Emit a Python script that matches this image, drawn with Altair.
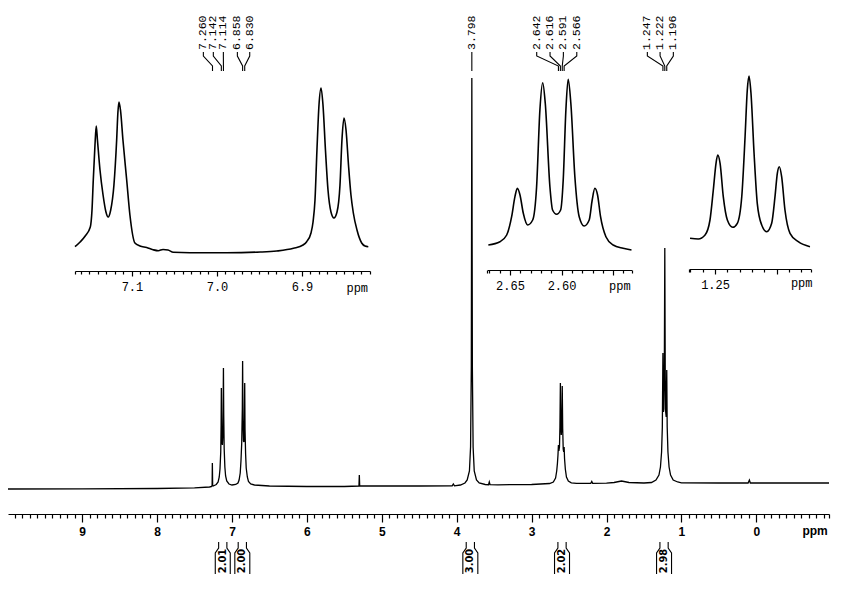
import altair as alt
import pandas as pd

# ---------------- data ----------------
# main spectrum (ppm, relative intensity)
main_ppm = [9.99, 9.0, 8.0, 7.5, 7.30, 7.27, 7.265, 7.262, 7.258, 7.25, 7.21, 7.185, 7.17, 7.16, 7.15,
            7.145, 7.142, 7.138, 7.132, 7.128, 7.122, 7.118, 7.114, 7.110, 7.104, 7.095, 7.085, 7.07,
            7.04, 7.0, 6.95, 6.92, 6.905, 6.89, 6.88, 6.87, 6.862, 6.858, 6.853, 6.846, 6.84, 6.835,
            6.830, 6.826, 6.818, 6.81, 6.795, 6.78, 6.75, 6.7, 6.5, 6.0, 5.5, 5.305, 5.300, 5.295, 4.5,
            4.06, 4.045, 4.03, 3.95, 3.89, 3.86, 3.83, 3.815, 3.805, 3.798, 3.791, 3.781, 3.766, 3.736,
            3.70, 3.62, 3.575, 3.565, 3.555, 3.45, 3.0, 2.76, 2.71, 2.68, 2.665, 2.655, 2.648, 2.642,
            2.636, 2.628, 2.622, 2.616, 2.61, 2.604, 2.597, 2.591, 2.585, 2.578, 2.572, 2.566, 2.56,
            2.55, 2.535, 2.51, 2.47, 2.40, 2.21, 2.197, 2.185, 2.0, 1.9, 1.8, 1.7, 1.5, 1.40, 1.34,
            1.30, 1.28, 1.265, 1.255, 1.247, 1.24, 1.234, 1.228, 1.222, 1.216, 1.21, 1.203, 1.196,
            1.19, 1.18, 1.165, 1.145, 1.11, 1.05, 1.0, 0.5, 0.11, 0.093, 0.08, -0.5, -0.97]
main_int = [-2, -1.8, -1.5, -0.8, 0, 0.5, 2, 24, 2, 1, 2.5, 5, 10, 18, 35,
            62, 99, 60, 44, 42, 52, 78, 119, 72, 38, 20, 11, 6,
            3, 2, 2.5, 4, 7, 14, 26, 44, 78, 126, 68, 46, 45, 62,
            104, 58, 33, 19, 10, 5.5, 3, 2, 1, 0.5, 0.5, 1, 12, 1, 1,
            1.2, 3, 1.2, 2, 4, 7, 16, 40, 120, 409, 120, 40, 16, 7,
            4, 2.5, 2.3, 5, 2.3, 2.2, 2.5, 3.5, 5, 9, 16, 24, 32, 42,
            36, 40, 60, 104, 62, 52, 60, 101, 58, 38, 35, 40, 28,
            18, 10, 6, 4.2, 3.7, 3.7, 5.5, 3.7, 3.8, 4.5, 6, 4.5, 4, 4.5, 7,
            12, 20, 35, 60, 134, 75, 78, 120, 239, 110, 75, 70, 117,
            60, 35, 20, 12, 7, 5, 4.2, 4, 4, 7, 4, 4, 4]

# inset 1 : aromatic region
ins1_ppm = [7.167, 7.161, 7.155, 7.149, 7.147, 7.1455, 7.1435, 7.142, 7.1406, 7.1376, 7.134, 7.1306,
            7.128, 7.125, 7.1212, 7.118, 7.1165, 7.1153, 7.1135, 7.1106, 7.1062, 7.1024, 7.0965,
            7.0906, 7.0827, 7.0753, 7.069, 7.0635, 7.0576, 7.0514, 7.0318, 6.9886, 6.949, 6.9298,
            6.910, 6.8988, 6.8945, 6.8894, 6.887, 6.8847, 6.8824, 6.88, 6.8776, 6.8753, 6.8724,
            6.8694, 6.8659, 6.8624, 6.8588, 6.8553, 6.853, 6.8506, 6.8482, 6.8453, 6.8424, 6.8396,
            6.8353, 6.8298, 6.8259, 6.822]
ins1_int = [6.3, 11, 17, 26, 43, 73, 108, 127, 113, 83, 58, 41,
            36, 43, 68, 113, 141, 151, 143, 113, 73, 38, 10,
            7, 5.5, 3.3, 2.3, 3.5, 3, 0.7, 0.3, 0.3, 1, 2,
            4.7, 8, 11.3, 20, 31, 53, 103, 148, 165, 148, 103,
            63, 41, 35, 41, 68, 113, 135, 123, 88, 58, 40,
            23, 10, 7, 6.3]

# inset 2 : quartet
ins2_ppm = [2.671, 2.6597, 2.6532, 2.6484, 2.6452, 2.6429, 2.6403, 2.6371, 2.6329, 2.628, 2.6242,
            2.621, 2.6183, 2.6158, 2.6113, 2.6087, 2.6048, 2.6009, 2.5984, 2.5958, 2.5936, 2.591,
            2.5871, 2.5829, 2.5781, 2.5732, 2.5703, 2.5677, 2.5651, 2.5622, 2.557, 2.55, 2.5403,
            2.5322]
ins2_int = [6, 9.3, 16, 34.3, 54.3, 62.7, 56, 37.7, 26, 31, 64.3,
            141, 168.3, 147.7, 64.3, 41, 36.7, 41, 71, 141, 171.7, 147.7,
            74.3, 34.3, 25, 31, 51, 62.7, 56, 34.3, 14.3, 6, 2.7,
            1]

# inset 3 : triplet
ins3_ppm = [1.2703, 1.2636, 1.2581, 1.2541, 1.2514, 1.2492, 1.2478, 1.2459, 1.2433, 1.24, 1.2356,
            1.2319, 1.2283, 1.2256, 1.2238, 1.2224, 1.2208, 1.2183, 1.2157, 1.2121, 1.208, 1.204,
            1.2013, 1.1994, 1.1978, 1.1959, 1.1932, 1.1891, 1.1824, 1.1729]
ins3_int = [9.7, 9, 13, 28, 58, 84.7, 93, 84.7, 51.3, 28, 20.7,
            24.7, 51.3, 111.3, 158, 172, 154.7, 94.7, 44.7, 23, 16.3, 24.7,
            51.3, 74.7, 81.3, 71.3, 38, 14.7, 6.3, 1.3]

# peak picking labels
peak_text = ["7.260", "7.142", "7.114", "6.858", "6.830", "3.798",
             "2.642", "2.616", "2.591", "2.566", "1.247", "1.222", "1.196"]
peak_ppm = [7.260, 7.142, 7.114, 6.858, 6.830, 3.798,
            2.642, 2.616, 2.591, 2.566, 1.247, 1.222, 1.196]

# integrals
integral_text = ["2.01", "2.00", "3.00", "2.02", "2.98"]
integral_ppm = [7.123, 6.862, 3.818, 2.594, 1.232]

# ---------------- layout ----------------
W, H = 831, 506
label_anchor = [7.382, 7.249, 7.115, 6.928, 6.763, 3.798,
                2.932, 2.754, 2.576, 2.397, 1.455, 1.285, 1.108]


def sc(domain, rng):
    return alt.Scale(domain=domain, range=rng, nice=False, zero=False)


def MX():
    return sc([9.99, -0.97], [0, 821])


def MY():
    return sc([0, 400], [479, 79])


def make_axis(values, major_test, label_test, fmt, offset, font, weight, size,
              major_len, minor_len, pad):
    return alt.Axis(
        orient="bottom", offset=offset, values=values, title=None, grid=False,
        labelExpr=f"({label_test}) ? format(datum.value, '{fmt}') : ''",
        tickSize={"condition": {"test": major_test, "value": major_len}, "value": minor_len},
        labelFont=font, labelFontWeight=weight, labelFontSize=size, labelColor="black",
        labelPadding=pad, labelOverlap=False, labelFlush=False, labelBound=False,
        domainColor="black", domainWidth=1.2, tickColor="black", tickWidth=1.2,
    )


main_vals = [round(10 - 0.1 * i, 1) + 0.0 for i in range(110)] + [-0.97]
m_major = "abs(datum.value - round(datum.value)) < 0.001"
main_axis = make_axis(main_vals, m_major, m_major + " && datum.value < 9.5", "d", 0,
                      "Liberation Sans", "bold", 12, 8, 4, 4)

i1_vals = [7.167] + [round(7.16 - 0.01 * i, 2) + 0.0 for i in range(34)] + [6.82]
i1_major = "abs(datum.value*10 - round(datum.value*10)) < 0.001"
i1_axis = make_axis(i1_vals, i1_major, i1_major, ".1f", 263 - H,
                    "Liberation Mono", "normal", 12, 5, 3, 5)

i2_vals = [2.672] + [round(2.67 - 0.01 * i, 2) + 0.0 for i in range(14)] + [2.532]
i2_major = "abs(datum.value*20 - round(datum.value*20)) < 0.001"
i2_axis = make_axis(i2_vals, i2_major, i2_major + " && datum.value > 2.56", ".2f", 262 - H,
                    "Liberation Mono", "normal", 12, 5, 3, 5)

i3_vals = [1.2709] + [round(1.27 - 0.01 * i, 2) + 0.0 for i in range(10)] + [1.1723]
i3_major = "abs(datum.value*20 - round(datum.value*20)) < 0.001"
i3_axis = make_axis(i3_vals, i3_major, i3_major + " && datum.value > 1.22", ".2f", 261 - H,
                    "Liberation Mono", "normal", 12, 5, 3, 5)

# ---------------- layers ----------------
df_main = pd.DataFrame({"ppm": main_ppm, "I": main_int})
main_line = alt.Chart(df_main).mark_line(color="black", strokeWidth=1.3).encode(
    x=alt.X("ppm:Q", scale=MX(), axis=main_axis),
    y=alt.Y("I:Q", scale=MY(), axis=None),
)

ins_layers = []
for ppm, inten, dom, rng, ydom, axis, ppm_pos in [
    (ins1_ppm, ins1_int, [7.167, 6.82], [67, 362], [245, 45], i1_axis, 6.835),
    (ins2_ppm, ins2_int, [2.672, 2.532], [479.3, 623.7], [243, 43], i2_axis, 2.5435),
    (ins3_ppm, ins3_int, [1.2709, 1.1723], [681.3, 802.7], [240, 40], i3_axis, 1.1796),
]:
    d = pd.DataFrame({"ppm": ppm, "I": inten})
    ins_layers.append(
        alt.Chart(d).mark_line(color="black", strokeWidth=1.6, interpolate="monotone").encode(
            x=alt.X("ppm:Q", scale=sc(dom, rng), axis=axis),
            y=alt.Y("I:Q", scale=sc([0, 200], ydom), axis=None),
        )
    )
    ins_layers.append(
        alt.Chart(pd.DataFrame({"ppm": [ppm_pos], "I": [-35], "t": ["ppm"]})).mark_text(
            font="Liberation Mono", fontSize=12, color="black", align="center", baseline="middle"
        ).encode(
            x=alt.X("ppm:Q", scale=sc(dom, rng), axis=None),
            y=alt.Y("I:Q", scale=sc([0, 200], ydom), axis=None),
            text="t:N",
        )
    )

# peak label connectors
rows = []
for k, (a, p) in enumerate(zip(label_anchor, peak_ppm)):
    for s, (xx, yy) in enumerate([(a, 435), (a, 431), (p, 421), (p, 416)]):
        rows.append({"id": k, "seq": s, "ppm": xx, "I": yy})
conn = alt.Chart(pd.DataFrame(rows)).mark_line(color="black", strokeWidth=1.1).encode(
    x=alt.X("ppm:Q", scale=MX(), axis=None),
    y=alt.Y("I:Q", scale=MY(), axis=None),
    detail="id:N", order="seq:Q",
)
peak_lbl = alt.Chart(pd.DataFrame({"ppm": label_anchor, "I": [437] * len(peak_text), "t": peak_text})).mark_text(
    angle=270, align="left", baseline="middle", font="Liberation Mono", fontSize=11.5, color="black"
).encode(
    x=alt.X("ppm:Q", scale=MX(), axis=None),
    y=alt.Y("I:Q", scale=MY(), axis=None),
    text="t:N",
)

# integral brackets
rows = []
for k, c in enumerate(integral_ppm):
    for side, sgn in (("L", 1), ("R", -1)):
        for s, (dx, yy) in enumerate([(0.055, -55), (0.055, -61), (0.1, -66), (0.1, -87)]):
            rows.append({"id": f"{k}{side}", "seq": s, "ppm": c + sgn * dx, "I": yy})
integ = alt.Chart(pd.DataFrame(rows)).mark_line(color="black", strokeWidth=1.1).encode(
    x=alt.X("ppm:Q", scale=MX(), axis=None),
    y=alt.Y("I:Q", scale=MY(), axis=None),
    detail="id:N", order="seq:Q",
)
integ_lbl = alt.Chart(pd.DataFrame({"ppm": integral_ppm, "I": [-74] * 5, "t": integral_text})).mark_text(
    angle=270, align="center", baseline="middle", font="DejaVu Sans Condensed",
    fontWeight="bold", fontSize=11, color="black"
).encode(
    x=alt.X("ppm:Q", scale=MX(), axis=None),
    y=alt.Y("I:Q", scale=MY(), axis=None),
    text="t:N",
)

ppm_main = alt.Chart(pd.DataFrame({"ppm": [-0.784], "I": [-44], "t": ["ppm"]})).mark_text(
    font="Liberation Sans", fontWeight="bold", fontSize=12, color="black",
    align="center", baseline="middle"
).encode(
    x=alt.X("ppm:Q", scale=MX(), axis=None),
    y=alt.Y("I:Q", scale=MY(), axis=None),
    text="t:N",
)

chart = alt.layer(main_line, *ins_layers, conn, peak_lbl, integ, integ_lbl, ppm_main).resolve_scale(
    x="independent", y="independent"
).properties(
    width=W, height=H,
    autosize=alt.AutoSizeParams(type="none"),
    padding={"left": 0, "top": 0, "right": 0, "bottom": 71},
    background="white",
).configure_view(stroke=None)

chart.save("out.html", embed_options={"renderer": "svg", "actions": False})
